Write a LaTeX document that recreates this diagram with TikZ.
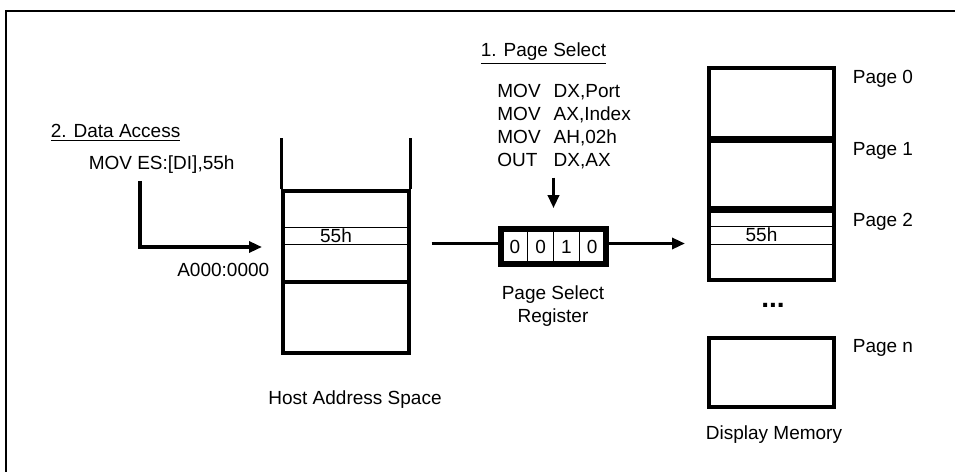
\documentclass[tikz,border=0pt]{standalone}
\usepackage{fontspec}
\setmainfont{Liberation Sans}
\usetikzlibrary{positioning,arrows.meta}

\begin{document}
\begin{tikzpicture}[x=0.5pt,y=-0.5pt,
  font=\fontsize{9.5}{11.5}\selectfont,
  fleche/.style={line width=1.6pt,-{Triangle[length=6.5pt,width=5.5pt]}},
  epais/.style={draw,line width=1.6pt,minimum width=63pt,inner sep=0pt},
  mince/.style={draw,line width=0.4pt,minimum width=63pt,minimum height=8.5pt,inner sep=0pt},
  page/.style={draw,line width=2pt,minimum width=62.5pt,inner sep=0pt},
  case/.style={draw,line width=0.4pt,minimum width=12.875pt,minimum height=16.5pt,inner sep=0pt}]

  \useasboundingbox (0,0) rectangle (955,472);
  % Cadre
  \draw[line width=0.6pt] (6,472) -- (6,11) -- (955,11);

  % Espace d'adresses hote
  \node[epais,minimum height=45.5pt] (fenetre) at (346,236.5) {};
  \node[epais,minimum height=35.5pt] (hbas) at (346,317.5) {};
  \draw[line width=1.6pt] (fenetre.north west) -- ++(0,-51);
  \draw[line width=1.6pt] (fenetre.north east) -- ++(0,-51);
  \node[mince,label={[xshift=-5pt]center:55h}] (hoctet) at (346,235.5) {};
  \node[anchor=east] (adresse) at (276.3,270) {A000:0000};
  \node (hote) at (355,400) {Host Address Space};

  % 2. Acces aux donnees
  \node[anchor=west] (etape2) at (43.7,133) {\underline{2. Data Access}};
  \node[anchor=west] (movES) at (81.7,165) {MOV ES:[DI],55h};
  \coordinate (coude) at (140,247);
  \coordinate (pointe) at (262,247);
  \draw[fleche] (movES.south -| coude) -- (coude) -- (pointe);

  % 1. Selection de page
  \node[anchor=west] (etape1) at (473.7,54) {\underline{1. Page Select}};
  \node[anchor=north west,inner sep=0pt] (pscode) at (497,80.7) {%
    \begin{tabular}{@{}l@{\hspace{6.5pt}}l@{}}
      MOV & DX,Port\\
      MOV & AX,Index\\
      MOV & AH,02h\\
      OUT & DX,AX
    \end{tabular}};

  % Registre de selection de page
  \node[draw,line width=1.8pt,minimum width=51.5pt,minimum height=16.5pt,inner sep=0pt] (registre) at (553.5,246.5) {};
  \foreach \b [count=\i from 0] in {0,0,1,0} {
    \node[case] (r\i) at (515+25.75*\i,246.5) {\b};
  }
  \draw[line width=1.8pt] (registre.north west) rectangle (registre.south east);
  \node[align=center] (psr) at (553,306) {Page Select\\Register};

  % Memoire d'affichage
  \node[page,minimum height=34.75pt] (page0) at (771.5,102.75) {};
  \node[page,minimum height=33.25pt] (page1) at (771.5,174.25) {};
  \node[page,minimum height=34.5pt] (page2) at (771.5,245.5) {};
  \node[page,minimum height=34.5pt] (pagen) at (771.5,372.5) {};
  \node[mince,minimum width=62.5pt,minimum height=9pt,label={[xshift=-5pt]center:55h}] (poctet) at (771.5,235) {};
  \foreach \p/\t in {page0/0,page1/1,page2/2,pagen/n} {
    \node[anchor=north west] (l\p) at ([xshift=4.9pt,yshift=1.6pt]\p.north east) {Page \t};
  }
  \node[anchor=base,font=\fontsize{14}{14}\selectfont\bfseries] (points) at (773,307) {...};
  \node (dm) at (774,435) {Display Memory};

  % Connexions
  \draw[line width=1.6pt] ([xshift=10.5pt,yshift=1.5pt]fenetre.east |- registre.west) -- ([yshift=1.5pt]registre.west);
  \draw[fleche] ([yshift=1.5pt]registre.east) -- ([xshift=-11pt,yshift=1.5pt]registre.east -| page2.west);
  \draw[fleche] ([yshift=-2pt]pscode.south -| registre.north) -- ([yshift=10pt]registre.north);
\end{tikzpicture}
\end{document}
